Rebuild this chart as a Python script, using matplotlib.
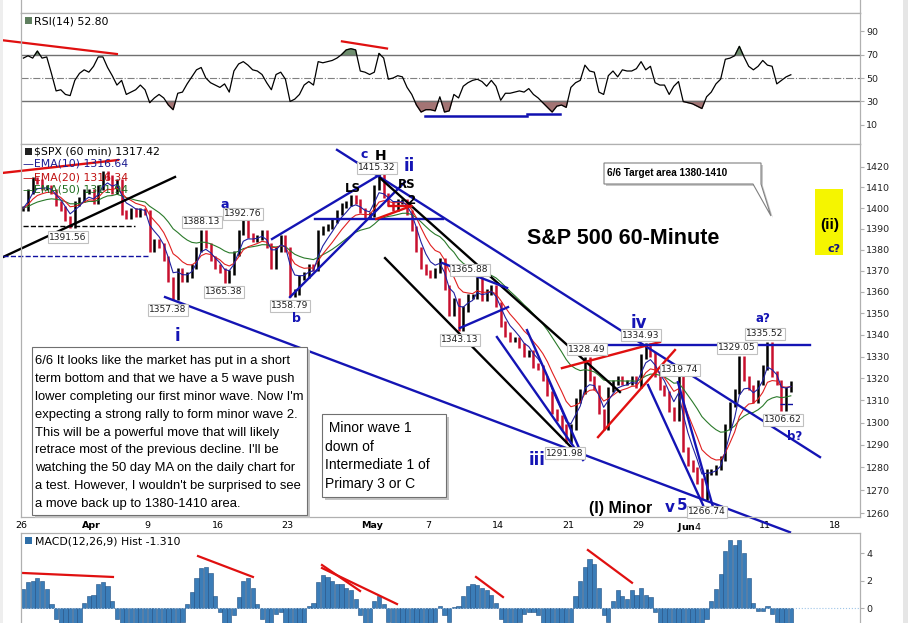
import numpy as np
import pandas as pd
import matplotlib
matplotlib.use("Agg")
import matplotlib.pyplot as plt
from matplotlib.patches import Rectangle, Polygon
from matplotlib.transforms import Affine2D
from matplotlib.ticker import FixedLocator, NullLocator

# $SPX 60 min, three readings per trading day, 26 Mar .. 12 Jun 2012
closes = [
    1400, 1408, 1414,  1413, 1410, 1410,  1408, 1402, 1400,  1395, 1391.6, 1402,
    1404, 1408, 1408,  1403, 1410, 1417,  1415, 1408, 1413,  1398, 1396, 1399,
    1397, 1399, 1398,  1380, 1384, 1382,  1376, 1366, 1357.4,  1370, 1366, 1368,
    1372, 1380, 1388.1,  1382, 1376, 1372,  1370, 1365.4, 1369,  1378, 1388, 1392.8,
    1387, 1385, 1386,  1388, 1382, 1372,  1380, 1386, 1380,  1358.8, 1360, 1367,
    1368, 1372, 1371,  1388, 1390, 1391,  1394, 1398, 1401,  1402, 1405, 1403,
    1399, 1396, 1397,  1410, 1415.3, 1406,  1402, 1400, 1403,  1403, 1398, 1390,
    1380, 1372, 1369,  1368, 1370, 1375,  1362, 1350, 1356,  1343.1, 1352, 1358,
    1358, 1365.9, 1357,  1360, 1362, 1354,  1345, 1340, 1338,  1338, 1335, 1331,
    1332, 1326, 1325,  1320, 1313, 1305,  1302, 1298, 1292,  1298, 1310, 1314,
    1328.5, 1320, 1316,  1305, 1298, 1315,  1318, 1320, 1318,  1318, 1320, 1317,
    1330, 1334.9, 1331,  1322, 1316, 1313,  1306, 1302, 1319.7,  1288, 1282, 1279,
    1274, 1266.7, 1278,  1278, 1280, 1284,  1298, 1308, 1314,  1329, 1320, 1316,
    1310, 1318, 1325,  1335.5, 1322, 1318,  1306.6, 1315, 1317.42,
]

rsi = [
    67, 69, 67,  73, 67, 68,  54, 39, 40,  36, 35, 48,  54, 57, 55,  60, 68, 68,
    59, 52, 44,  48, 36, 38,  40, 44, 40,  29, 33, 36,  33, 27, 23,  37, 38, 45,
    51, 57, 59,  50, 46, 44,  42, 45, 38,  56, 62, 64,  61, 57, 56,  53, 46, 40,
    53, 55, 49,  30, 32, 36,  44, 47, 44,  64, 63, 64,  65, 67, 70,  74, 75, 74,
    56, 55, 53,  55, 71, 67,  49, 50, 52,  51, 42, 36,  27, 21, 23,  23, 22, 34,
    21, 22, 36,  33, 43, 46,  48, 49, 47,  43, 48, 43,  31, 37, 37,  38, 39, 38,
    41, 36, 33,  29, 25, 21,  26, 27, 25,  42, 46, 48,  61, 56, 55,  38, 36, 52,
    56, 51, 57,  56, 56, 58,  64, 57, 60,  46, 44, 44,  36, 43, 47,  30, 29, 28,
    26, 24, 34,  38, 45, 49,  66, 67, 69,  77, 68, 60,  57, 60, 65,  61, 60, 45,
    48, 51, 52.8,
]

macd_hist = [
    1.4, 1.9, 2.0,  2.2, 2.0, 1.4,  0.3, -0.8, -1.5,  -2, -2, -2,  -1.2, 0.4, 0.9,
    1.0, 1.8, 1.9,  1.6, 0.5, -0.8,  -1.5, -2, -2,  -2, -2, -2,  -2.5, -3, -3,
    -3, -3, -2.5,  -2, -1, 0.3,  1.2, 2.2, 2.9,  3.0, 2.6, 0.9,  -0.3, -1.2, -1.5,
    -0.5, 0.8, 2.0,  2.2, 1.5, 0.3,  -0.8, -1.5, -1.5,  -0.4, -0.3, -1.2,  -2, -2, -1.8,
    -1.2, 0.2, 0.4,  1.9, 2.4, 2.3,  2.0, 1.8, 1.8,  1.5, 1.3, 0.7,  -0.5, -1.5, -1.2,
    0.5, 0.9, 0.3,  -1.0, -1.5, -1.8,  -2, -2, -2,  -2.5, -2.5, -2,  -1.5, -1, 0.2,
    -0.5, -1.0, 0.1,  0.2, 0.9, 1.6,  1.8, 1.7, 1.5,  1.3, 1.0, 0.4,  -0.8, -1.5, -2,
    -2, -1, -0.4,  -0.3, -0.3, -0.5,  -1.5, -2, -2.5,  -3, -3, -2.5,  -1.5, 0.9, 2.0,
    3.0, 3.6, 3.2,  1.5, -0.5, -1,  0.5, 1.3, 0.9,  0.7, 1.3, 1.0,  1.5, 1.0, 0.8,
    -0.3, -1.2, -1.8,  -2, -2, -2,  -2.5, -3, -3,  -3, -2, -0.8,  0.5, 1.4, 2.5,
    4.2, 5.0, 4.6,  5.0, 4.0, 2.2,  0.4, -0.2, -0.2,  0.2, -0.4, -1.0,  -1.2, -1.4, -1.31,
]

date_ticks = [0, 5, 9, 14, 19, 25, 29, 34, 39, 44, 47.6, 53, 58]
date_labels = ["26", "Apr", "9", "16", "23", "May", "7", "14", "21", "29",
               r"$\mathbf{Jun}$4", "11", "18"]
price_ticks = list(range(1260, 1421, 10))
rsi_ticks = [10, 30, 50, 70, 90]
macd_ticks = [0, 2, 4]

closes = np.array(closes, dtype=float)
rsi = np.array(rsi, dtype=float)
macd_hist = np.array(macd_hist, dtype=float)
n = len(closes)
x = np.arange(n) / 3 + 1 / 6

s = pd.Series(closes)
ema10 = s.ewm(span=10 * 3 / 7, adjust=False).mean()
ema20 = s.ewm(span=20 * 3 / 7, adjust=False).mean()
ema50 = s.ewm(span=50 * 3 / 7, adjust=False).mean()

NAVY = "#1414b4"
RED = "#e01010"
FRAME = "#b0b0b0"

fig = plt.figure(figsize=(9.08, 6.23), dpi=100)
px = Affine2D().scale(1 / 908, -1 / 623).translate(0, 1) + fig.transFigure

L, Wd = 21 / 908, 839 / 908
ax_top = fig.add_axes([L, 0.97913, Wd, 0.05])
ax_rsi = fig.add_axes([L, 0.76886, Wd, 0.21027])
ax_p = fig.add_axes([L, 0.17014, Wd, 0.59872])
ax_m = fig.add_axes([L, 0.0, Wd, 0.14446])

for ax in (ax_top, ax_rsi, ax_p, ax_m):
    ax.set_xlim(0, 59.76)
    for sp in ax.spines.values():
        sp.set_color(FRAME)
        sp.set_linewidth(0.9)
    ax.tick_params(axis="y", which="both", right=True, left=False, labelright=True,
                   labelleft=False, labelsize=6.8, length=3, color=FRAME,
                   labelcolor="#222222", pad=1.5)
    ax.tick_params(axis="x", length=0)
    ax.set_xticks([])
ax_top.set_yticks([])
ax_m.spines["bottom"].set_visible(False)

# small panel icons
for yy, c in [(21, "#5f7f5f"), (152, "#202020"), (541, "#2f6fa8")]:
    fig.patches.append(Rectangle((25, yy - 4), 7, 7, transform=px, fc=c, ec="none"))

# ---- RSI ----
ax_rsi.set_ylim(-6.3, 105.5)
ax_rsi.set_yticks(rsi_ticks)
ax_rsi.axhline(70, color="#707070", lw=1.0)
ax_rsi.axhline(30, color="#707070", lw=1.0)
ax_rsi.axhline(50, color="#808080", lw=0.8, ls="-.")
ax_rsi.fill_between(x, rsi, 70, where=rsi >= 70, interpolate=True, color="#6f8f6f")
ax_rsi.fill_between(x, rsi, 30, where=rsi <= 30, interpolate=True, color="#a47474")
ax_rsi.plot(x, rsi, color="black", lw=0.9)
fig.text(34, 21, "RSI(14) 52.80", transform=px, fontsize=7.8, va="center",
         family="DejaVu Sans")
ax_rsi.plot([-1.28, 6.83], [82.2, 70.5], color=RED, lw=1.6, clip_on=False)
ax_rsi.plot([22.86, 26.07], [81.3, 75.2], color=RED, lw=1.6)
ax_rsi.plot([28.77, 36.04], [17.8, 17.8], color="#1010b0", lw=1.8)
ax_rsi.plot([36.04, 38.39], [19.6, 19.6], color="#1010b0", lw=1.8)

# ---- price ----
ax_p.set_yscale("log")
ax_p.set_ylim(1258.3, 1431.3)
ax_p.yaxis.set_major_locator(FixedLocator(price_ticks))
ax_p.yaxis.set_minor_locator(NullLocator())
ax_p.set_yticklabels([str(t) for t in price_ticks])
ax_p.set_xticks(date_ticks)
ax_p.set_xticklabels(date_labels, fontsize=6.8, family="DejaVu Sans")
ax_p.tick_params(axis="x", length=0, pad=3)
for t in ax_p.get_xticklabels():
    if t.get_text() in ("Apr", "May"):
        t.set_fontweight("bold")

prev = np.r_[closes[0], closes[:-1]]
lo = np.minimum(prev, closes) - 1.2
hi = np.maximum(prev, closes) + 1.2
bar_col = np.where(closes >= prev, "black", "#c8102e")
ax_p.vlines(x, lo, hi, colors=bar_col, lw=1.8)
ax_p.plot(x, ema50, color="#2a7a2a", lw=0.8)
ax_p.plot(x, ema20, color="#e02020", lw=0.8)
ax_p.plot(x, ema10, color="#2020a0", lw=0.8)

trend_lines = [
    # day0, price0, day1, price1, colour, style, clip
    (-1.28, 1376.5, 10.97, 1415.1, "black", "-", False),
    (0.14, 1391.56, 8.12, 1391.56, "black", "--", True),
    (-1.28, 1377.0, 9.19, 1377.0, "#1010a0", "--", False),
    (-1.28, 1417.1, 6.91, 1423.4, RED, "-", False),
    (10.26, 1357.6, 54.77, 1251.7, NAVY, "-", False),
    (17.88, 1385.1, 25.78, 1417.1, NAVY, "-", True),
    (19.16, 1357.6, 27.35, 1412.7, NAVY, "-", True),
    (20.94, 1394.7, 30.06, 1394.7, NAVY, "-", True),
    (22.51, 1428.4, 56.91, 1284.6, NAVY, "-", True),
    (25.57, 1414.6, 42.66, 1313.8, "black", "-", True),
    (25.93, 1376.0, 39.60, 1286.4, "black", "-", True),
    (29.99, 1373.7, 34.62, 1361.9, NAVY, "-", True),
    (31.27, 1343.2, 34.69, 1352.9, NAVY, "-", True),
    (33.90, 1339.0, 40.03, 1283.3, NAVY, "-", True),
    (36.04, 1342.2, 40.03, 1284.6, NAVY, "-", True),
    (44.66, 1317.0, 48.58, 1263.5, NAVY, "-", True),
    (46.79, 1318.3, 49.29, 1262.6, NAVY, "-", True),
    (38.53, 1324.7, 45.51, 1336.7, RED, "-", True),
    (41.10, 1293.5, 46.58, 1333.0, RED, "-", True),
    (40.53, 1335.5, 56.20, 1335.5, NAVY, "-", True),
    (25.3, 1394.7, 27.8, 1401.0, RED, "-", True),
    (26.2, 1401.0, 27.8, 1401.0, RED, "-", True),
    (54.06, 1308.4, 55.0, 1308.4, "#1010a0", "--", True),
]
for d0, p0, d1, p1, c, ls, clip in trend_lines:
    ax_p.plot([d0, d1], [p0, p1], color=c, ls=ls, lw=1.0 if ls == "--" else 1.7,
              clip_on=clip)

# legend text
fig.text(34, 152, "$SPX (60 min) 1317.42", transform=px, fontsize=7.8, va="center",
         family="DejaVu Sans")
for yy, lab, c in [(164, "EMA(10) 1316.64", "#1a1a90"), (177, "EMA(20) 1316.34", "#c01010"),
                   (190, "EMA(50) 1311.94", "#1e6e1e")]:
    fig.text(23, yy, "\u2014" + lab, transform=px, fontsize=7.8, va="center", color=c,
             family="DejaVu Sans")

# boxed price labels
price_labels = [
    ("1391.56", 68, 237), ("1357.38", 168, 310), ("1388.13", 202, 222),
    ("1365.38", 224, 292), ("1392.76", 243, 214), ("1358.79", 290, 306),
    ("1415.32", 377, 168), ("1365.88", 470, 270), ("1343.13", 460, 340),
    ("1291.98", 565, 453), ("1328.49", 587, 349), ("1334.93", 641, 335),
    ("1319.74", 680, 370), ("1329.05", 737, 348), ("1335.52", 765, 334),
    ("1306.62", 783, 420), ("1266.74", 707, 512),
]
for lab, xx, yy in price_labels:
    fig.text(xx, yy, lab, transform=px, fontsize=6.6, ha="center", va="center",
             family="DejaVu Sans", color="#202020",
             bbox=dict(boxstyle="square,pad=0.12", fc="white", ec="#c0c0c0", lw=0.8))

# wave labels
waves = [
    ("i", 177, 336, 12, NAVY), ("a", 225, 204, 9, NAVY), ("b", 296, 318, 9, NAVY),
    ("c", 364, 155, 9, NAVY), ("ii", 409, 166, 12, NAVY), ("iii", 537, 460, 12, NAVY),
    ("iv", 639, 323, 12, NAVY), ("v", 670, 508, 11, NAVY), ("5", 682, 505, 11, NAVY),
    ("a?", 763, 318, 8.5, NAVY), ("b?", 795, 436, 8.5, NAVY),
    ("LS", 353, 188, 8.5, "black"), ("H", 381, 156, 10, "black"),
    ("RS", 407, 185, 8.5, "black"), ("2", 411, 201, 8.5, "black"),
]
for lab, xx, yy, fs, c in waves:
    fig.text(xx, yy, lab, transform=px, fontsize=fs, ha="center", va="center",
             color=c, fontweight="bold", family="DejaVu Sans")

fig.text(623, 238, "S&P 500 60-Minute", transform=px, fontsize=15.5, ha="center",
         va="center", fontweight="bold", family="Liberation Sans")
fig.text(621, 509, "(I) Minor", transform=px, fontsize=11.5, ha="center",
         va="center", fontweight="bold", family="Liberation Sans")

# yellow (ii) box
fig.patches.append(Rectangle((815, 189), 28, 66, transform=px, fc="#f5f500", ec="none"))
fig.text(830, 225, "(ii)", transform=px, fontsize=11, ha="center", va="center",
         fontweight="bold", family="Liberation Sans")
fig.text(834, 249, "c?", transform=px, fontsize=8, ha="center", va="center",
         fontweight="bold", color="#101080", family="DejaVu Sans")

# target callout
call = [(604, 163), (761, 163), (761, 184), (771, 216), (753, 184), (604, 184)]
fig.patches.append(Polygon([(a + 2, b + 2) for a, b in call], closed=True, transform=px,
                           fc="#c8c8c8", ec="none"))
fig.patches.append(Polygon(call, closed=True, transform=px, fc="white", ec="#808080",
                           lw=0.8))
fig.text(607, 173.5, "6/6 Target area 1380-1410", transform=px, fontsize=7.2,
         va="center", fontweight="bold", family="Liberation Sans")

# note boxes
note1 = [
    "6/6 It looks like the market has put in a short",
    "term bottom and that we have a 5 wave push",
    "lower completing our first minor wave. Now I'm",
    "expecting a strong rally to form minor wave 2.",
    "This will be a powerful move that will likely",
    "retrace most of the previous decline. I'll be",
    "watching the 50 day MA on the daily chart for",
    "a test. However, I wouldn't be surprised to see",
    "a move back up to 1380-1410 area.",
]
note2 = [" Minor wave 1", "down of", "Intermediate 1 of", "Primary 3 or C"]
for (x0, y0, x1, y1) in [(32, 347, 307, 515), (322, 414, 446, 497)]:
    fig.patches.append(Rectangle((x0 + 3, y0 + 3), x1 - x0, y1 - y0, transform=px,
                                 fc="#c4c4c4", ec="none"))
    fig.patches.append(Rectangle((x0, y0), x1 - x0, y1 - y0, transform=px, fc="white",
                                 ec="#707070", lw=0.8))
for i, line in enumerate(note1):
    fig.text(35, 361 + 17.9 * i, line, transform=px, fontsize=9.4, va="center",
             family="Liberation Sans")
for i, line in enumerate(note2):
    fig.text(325, 428 + 18.7 * i, line, transform=px, fontsize=10, va="center",
             family="Liberation Sans")

# ---- MACD histogram ----
ax_m.set_ylim(-1.07, 5.48)
ax_m.set_yticks(macd_ticks)
ax_m.bar(x, macd_hist, width=0.3, color="#3b7db8", edgecolor="#1f4e80", lw=0.4)
ax_m.axhline(0, color="#9ec5e8", lw=0.8, ls=":")
fig.text(35, 541, "MACD(12,26,9) Hist -1.310", transform=px, fontsize=7.8,
         va="center", family="DejaVu Sans")
macd_lines = [
    (0.14, 2.57, 6.55, 2.28), (12.61, 3.80, 16.52, 2.28), (21.44, 3.15, 24.15, 1.26),
    (21.44, 2.93, 26.78, 0.31), (32.41, 2.28, 34.33, 0.82), (40.38, 4.24, 43.52, 1.86),
]
for d0, v0, d1, v1 in macd_lines:
    ax_m.plot([d0, d1], [v0, v1], color=RED, lw=1.6)

# side strips
fig.patches.append(Rectangle((903, 0), 5, 623, transform=px, fc="#e6e6e6", ec="none"))
fig.patches.append(Rectangle((0, 0), 3, 623, transform=px, fc="#eeeeee", ec="none"))

fig.savefig("out.png", dpi=100, facecolor="white")
